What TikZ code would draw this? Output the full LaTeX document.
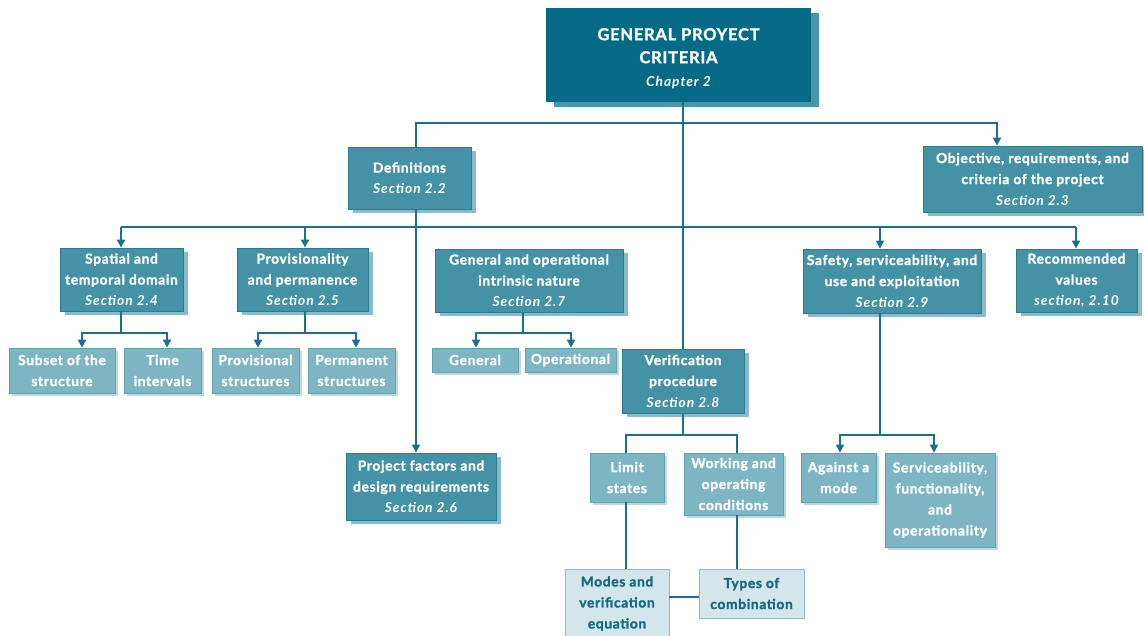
\documentclass[tikz,border=0pt]{standalone}
\usepackage{fontspec}
\setmainfont{Lato}[
  BoldFeatures={LetterSpace=5, FakeBold=1.6},
  BoldItalicFeatures={LetterSpace=7}]
\usetikzlibrary{arrows.meta,shadows}

\definecolor{deep}{HTML}{056A85}
\definecolor{deepshadow}{HTML}{4896A9}
\definecolor{mid}{HTML}{4492A6}
\definecolor{midline}{HTML}{2C7C91}
\definecolor{midshadow}{HTML}{8ABBC8}
\definecolor{light}{HTML}{7DB5C3}
\definecolor{lightline}{HTML}{5FA0B1}
\definecolor{lightshadow}{HTML}{BCD8E0}
\definecolor{pale}{HTML}{D3E6EC}
\definecolor{paleline}{HTML}{8DBCC9}
\definecolor{paletext}{HTML}{156A80}
\definecolor{wirecol}{HTML}{1C7087}

\tikzset{
  base/.style={rectangle, inner sep=0pt, align=center,
    font=\fontsize{10.3}{15.75}\selectfont\bfseries},
  chief/.style={base, fill=deep, text=white,
    general shadow={fill=deepshadow, shadow xshift=6pt, shadow yshift=-4pt},
    font=\fontsize{12.3}{17.25}\selectfont\bfseries},
  chieftext/.style={base, text=white, font=\fontsize{12.3}{17.25}\selectfont\bfseries},
  sectionbox/.style={base, fill=mid, draw=midline, line width=0.6pt, text=white,
    general shadow={fill=midshadow, draw=none, shadow xshift=3.5pt, shadow yshift=-3pt}},
  topicbox/.style={base, fill=light, draw=lightline, line width=0.5pt, text=white,
    general shadow={fill=lightshadow, draw=none, shadow xshift=2.5pt, shadow yshift=-2.5pt}},
  detailbox/.style={base, fill=pale, draw=paleline, line width=0.6pt, text=paletext},
  wire/.style={draw=wirecol, line width=1.3pt},
  feed/.style={wire, -{Triangle[width=6pt,length=6pt]}},
}

% box from its corners (x1,y1)-(x2,y2), given in pixel-like units
\newcommand\pbox[7]{%
  \node[#6, minimum width={(#4-#2)*0.75pt}, minimum height={(#5-#3)*0.75pt}]
    (#1) at ({(#2+#4)/2},{(#3+#5)/2}) {#7};}
\newcommand\secref[1]{{\itshape #1}}

\begin{document}
\begin{tikzpicture}[x=0.75pt,y=-0.75pt]
\useasboundingbox (0,0) rectangle (1144,635);
\clip (0,0) rectangle (1144,635);

% boxes
\pbox{top}{546}{8}{811}{102}{chief}{}
\node[chieftext] (toptitle) at ([yshift=-2.5pt]top.center)
  {GENERAL PROYECT\\CRITERIA\\{\fontsize{10.3}{15}\selectfont\secref{Chapter 2}}};
\pbox{defs}{348}{147}{471}{209}{sectionbox}{Definitions\\\secref{Section 2.2}}
\pbox{obj}{923}{146}{1142}{212}{sectionbox}{Objective, requirements, and\\criteria of the project\\\secref{Section 2.3}}
\pbox{spatial}{60}{248}{183}{311}{sectionbox}{Spatial and\\temporal domain\\\secref{Section 2.4}}
\pbox{prov}{237}{248}{368}{311}{sectionbox}{Provisionality\\and permanence\\\secref{Section 2.5}}
\pbox{genop}{435}{249}{623}{312}{sectionbox}{General and operational\\intrinsic nature\\\secref{Section 2.7}}
\pbox{safety}{803}{249}{981}{313}{sectionbox}{Safety, serviceability, and\\use and exploitation\\\secref{Section 2.9}}
\pbox{recom}{1016}{249}{1137}{312}{sectionbox}{Recommended\\values\\\secref{section, 2.10}}
\pbox{subset}{9}{348}{115}{393}{topicbox}{Subset of the\\structure}
\pbox{time}{124}{348}{201}{393}{topicbox}{Time\\intervals}
\pbox{provis}{212}{348}{299}{393}{topicbox}{Provisional\\structures}
\pbox{perm}{308}{348}{395}{393}{topicbox}{Permanent\\structures}
\pbox{general}{432}{348}{518}{372}{topicbox}{General}
\pbox{operational}{525}{348}{616}{372}{topicbox}{Operational}
\pbox{verif}{622}{349}{744}{413}{sectionbox}{Verification\\procedure\\\secref{Section 2.8}}
\pbox{project}{346}{453}{496}{520}{sectionbox}{Project factors and\\design requirements\\\secref{Section 2.6}}
\pbox{limit}{590}{453}{664}{502}{topicbox}{Limit\\states}
\pbox{working}{684}{453}{783}{515}{topicbox}{Working and\\operating\\conditions}
\pbox{against}{801}{453}{876}{502}{topicbox}{Against a\\mode}
\pbox{service}{885}{453}{995}{547}{topicbox}{Serviceability,\\functionality,\\and\\operationality}
\pbox{modes}{565}{569}{669}{638}{detailbox}{Modes and\\verification\\equation}
\pbox{types}{699}{569}{804}{618}{detailbox}{Types of\\combination}

% junction rows and drop lines
\coordinate (busA) at (0,123);
\coordinate (busB) at (0,227);
\coordinate (forkC) at (0,333);
\coordinate (forkD) at (0,435);
\coordinate (linkE) at (0,597);
\coordinate (xdef) at (416,0);
\coordinate (xobj) at (997,0);
\coordinate (xspa) at (121,0);
\coordinate (xpro) at (305,0);
\coordinate (xsaf) at (880,0);
\coordinate (xrec) at (1076,0);
\coordinate (xsub) at (82,0);
\coordinate (xtim) at (167,0);
\coordinate (xpvs) at (258,0);
\coordinate (xprm) at (356,0);
\coordinate (xgen) at (476,0);
\coordinate (xopr) at (571,0);
\coordinate (xlim) at (626,0);
\coordinate (xwrk) at (737,0);
\coordinate (xagn) at (840,0);
\coordinate (xsrv) at (934,0);
\coordinate (xgo) at (523,0);

% connectors
\draw[wire] (top.south -| verif.north) -- (verif.north);
\draw[feed] (defs.north -| xdef) -- (busA -| xdef) -- (busA -| xobj) -- (obj.north -| xobj);
\draw[wire] (busB -| xspa) -- (busB -| xrec);
\draw[feed] (busB -| xspa) -- (spatial.north -| xspa);
\draw[feed] (busB -| xpro) -- (prov.north -| xpro);
\draw[feed] (busB -| xsaf) -- (safety.north -| xsaf);
\draw[feed] (busB -| xrec) -- (recom.north -| xrec);
\draw[feed] (defs.south -| xdef) -- (project.north -| xdef);

\draw[feed] (spatial.south -| xspa) |- (forkC -| xsub) -- (subset.north -| xsub);
\draw[feed] (spatial.south -| xspa) |- (forkC -| xtim) -- (time.north -| xtim);
\draw[feed] (prov.south -| xpro) |- (forkC -| xpvs) -- (provis.north -| xpvs);
\draw[feed] (prov.south -| xpro) |- (forkC -| xprm) -- (perm.north -| xprm);
\draw[feed] (genop.south -| xgo) |- (forkC -| xgen) -- (general.north -| xgen);
\draw[feed] (genop.south -| xgo) |- (forkC -| xopr) -- (operational.north -| xopr);

\draw[wire] (verif.south) |- (forkD -| xlim) -- (limit.north -| xlim);
\draw[wire] (verif.south) |- (forkD -| xwrk) -- (working.north -| xwrk);
\draw[feed] (safety.south -| xsaf) |- (forkD -| xagn) -- (against.north -| xagn);
\draw[feed] (safety.south -| xsaf) |- (forkD -| xsrv) -- (service.north -| xsrv);

\draw[wire] (limit.south -| xlim) -- (modes.north -| xlim);
\draw[wire] (working.south -| xwrk) -- (types.north -| xwrk);
\draw[wire] (modes.east |- linkE) -- (types.west |- linkE);
\end{tikzpicture}
\end{document}
